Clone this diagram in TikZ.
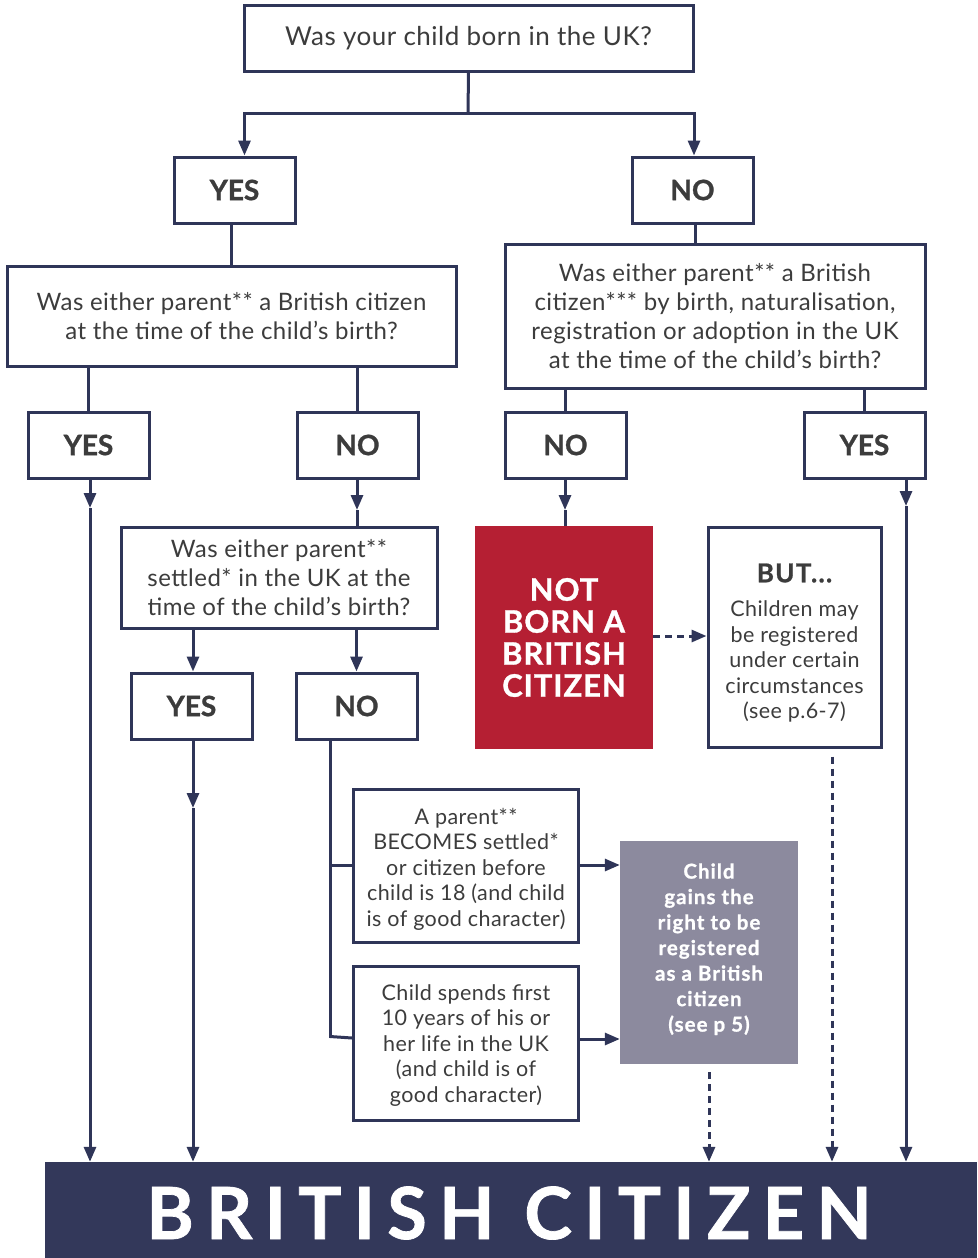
\documentclass[tikz,border=0pt]{standalone}
\usepackage{fontspec}
\setmainfont{Lato}
\usetikzlibrary{arrows.meta,calc}
\definecolor{navy}{HTML}{2F3558}
\definecolor{txt}{HTML}{3C3C3C}
\definecolor{redbox}{HTML}{B51F33}
\definecolor{greybox}{HTML}{8C8A9E}
\definecolor{barcol}{HTML}{33385A}
\newcommand{\heavy}{\bfseries\addfontfeature{FakeBold=1}}
\newcommand{\lowered}[2]{\raisebox{#1}[\height][\depth]{\begin{tabular}{@{}c@{}}#2\end{tabular}}}
\begin{document}
\begin{tikzpicture}[x=1pt,y=-1pt,
  box/.style={draw=navy, line width=3pt, fill=white, text=txt, align=center, inner sep=0pt, font=\fontsize{24}{29}\selectfont\addfontfeature{LetterSpace=2}},
  yn/.style={box, minimum width=121pt, minimum height=66pt, font=\fontsize{28}{30}\selectfont\heavy},
  small/.style={box, font=\fontsize{21.5}{25.5}\selectfont\addfontfeature{LetterSpace=2}},
  ln/.style={draw=navy, line width=3pt},
  arr/.style={ln, -{Triangle[length=15pt,width=12pt]}},
  darr/.style={arr, dash pattern=on 7pt off 5pt},
  filled/.style={inner sep=0pt, align=center, text=white}
]
\useasboundingbox (0,0) rectangle (977,1258);
\fill[white] (0,0) rectangle (977,1258);

% nodes
\node[box, minimum width=449pt, minimum height=66pt, font=\fontsize{26}{29}\selectfont\addfontfeature{LetterSpace=2}] (q0) at (468.5,38) {\lowered{-2pt}{Was your child born in the UK?}};
\node[yn] (yes1) at (234.5,190) {YES};
\node[yn] (no1) at (692.5,190) {NO};
\node[box, minimum width=449pt, minimum height=100pt] (q1) at (231.5,316) {Was either parent** a British citizen\\at the time of the child’s birth?};
\node[box, minimum width=420pt, minimum height=144pt] (q2) at (715,316) {Was either parent** a British\\citizen*** by birth, naturalisation,\\registration or adoption in the UK\\at the time of the child’s birth?};
\node[yn] (yes2) at (88.5,445) {YES};
\node[yn] (no2) at (357.5,445) {NO};
\node[yn] (no3) at (565.5,445) {NO};
\node[yn] (yes3) at (864.5,445) {YES};
\node[box, minimum width=316pt, minimum height=101pt] (q3) at (279,577.5) {Was either parent**\\settled* in the UK at the\\time of the child’s birth?};
\node[yn] (yes4) at (191.5,706) {YES};
\node[yn] (no4) at (356.5,706) {NO};
\node[filled, fill=redbox, minimum width=178pt, minimum height=223pt, font=\fontsize{31}{32}\selectfont\heavy\addfontfeature{LetterSpace=3}] (red) at (564,637.5) {NOT\\BORN A\\BRITISH\\CITIZEN};
\node[box, minimum width=173pt, minimum height=220pt] (but) at (794.5,637) {};
\node[align=center, inner sep=0pt, text=txt, font=\fontsize{21.5}{25.5}\selectfont\addfontfeature{LetterSpace=2}] (buttext) at (794.5,643) {{\fontsize{26}{30}\selectfont\heavy\addfontfeature{LetterSpace=5}BUT...}\\[9pt]Children may\\be registered\\under certain\\circumstances\\(see p.6-7)};
\node[small, minimum width=225pt, minimum height=153pt] (ca) at (466,866) {\lowered{-4pt}{A parent**\\BECOMES settled*\\or citizen before\\child is 18 (and child\\is of good character)}};
\node[small, minimum width=225pt, minimum height=154pt] (cb) at (466,1043.5) {\lowered{-2.5pt}{Child spends first\\10 years of his or\\her life in the UK\\(and child is of\\good character)}};
\node[filled, fill=greybox, minimum width=178pt, minimum height=223pt, font=\fontsize{20.5}{25.5}\selectfont\heavy\addfontfeature{LetterSpace=5}] (grey) at (709,952.5) {\lowered{2.5pt}{Child\\gains the\\right to be\\registered\\as a British\\citizen\\(see p 5)}};
\node[filled, fill=barcol, minimum width=932pt, minimum height=96pt] (bar) at (511,1210) {};
\node[inner sep=0pt, text=white, font=\fontsize{72}{74}\selectfont\heavy\addfontfeature{LetterSpace=17}] (bartext) at (509,1213) {BRITISH CITIZEN};

% coordinates
\coordinate (j0) at (468,113);
\coordinate (m1) at (90,508);
\coordinate (m2) at (357,510);
\coordinate (m3) at (565,510);
\coordinate (m4) at (906,506);
\coordinate (m5) at (193,808);
\coordinate (b1) at (330,865);
\coordinate (b2) at (330,1038);
\coordinate (b3) at (330,1039);

% connectors
\draw[ln] (q0.south) -- (j0);
\draw[arr] (j0) -| ([xshift=10pt]yes1.north);
\draw[arr] (j0) -| ([xshift=1.5pt]no1.north);
\draw[ln] ([xshift=-3.5pt]yes1.south) -- ([xshift=-3.5pt]yes1.south |- q1.north);
\draw[ln] ([xshift=2.5pt]no1.south) -- ([xshift=2.5pt]no1.south |- q2.north);
\draw[ln] (q1.south -| yes2.south) -- (yes2.north);
\draw[ln] (q1.south -| no2.south) -- (no2.north);
\draw[ln] (q2.south -| no3.south) -- (no3.north);
\draw[ln] (q2.south -| yes3.south) -- (yes3.north);
\draw[arr] (yes2.south -| m1) -- (m1);
\draw[arr] (m1) -- (m1 |- bar.north);
\draw[arr] (no2.south -| m2) -- (m2);
\draw[ln] (m2) -- (m2 |- q3.north);
\draw[arr] (no3.south -| m3) -- (m3);
\draw[ln] (m3) -- (m3 |- red.north);
\draw[arr] (yes3.south -| m4) -- (m4);
\draw[arr] (m4) -- (m4 |- bar.north);
\draw[arr] (q3.south -| m5) -- (m5 |- yes4.north);
\draw[arr] (q3.south -| no4.north) -- (no4.north);
\draw[arr] (yes4.south -| m5) -- (m5);
\draw[arr] (m5) -- (m5 |- bar.north);
\draw[ln] (no4.south -| b1) -- (b2);
\draw[ln] (b1) -- (b1 -| ca.west);
\draw[ln] ([yshift=1.5pt]b2) -- (b2 -| cb.west);
\draw[arr] (b1 -| ca.east) -- (b1 -| grey.west);
\draw[arr] (b3 -| cb.east) -- (b3 -| grey.west);
\draw[darr] (red.east |- 0,636) -- (but.west |- 0,636);
\draw[darr] ([yshift=-8pt]grey.south) -- (grey.south |- bar.north);
\draw[darr] ([xshift=37.5pt,yshift=-8pt]but.south) -- ([xshift=37.5pt]but.south |- bar.north);
\end{tikzpicture}
\end{document}
